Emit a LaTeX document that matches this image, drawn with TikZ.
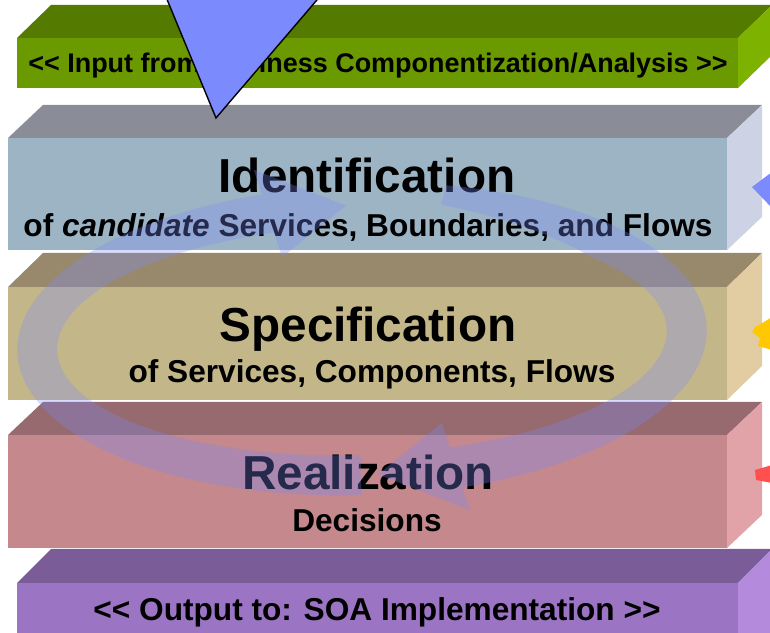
\documentclass[tikz,border=0pt]{standalone}
\usepackage{fontspec}
\setmainfont{Liberation Sans}
\usepackage{tikz}
\usepackage{color}

\definecolor{inFront}{HTML}{6A9A00}
\definecolor{inTop}{HTML}{557A00}
\definecolor{inSide}{HTML}{7DB300}
\definecolor{idFront}{HTML}{9CB4C4}
\definecolor{idTop}{HTML}{8A8C98}
\definecolor{idSide}{HTML}{CDD3E4}
\definecolor{spFront}{HTML}{C3B78A}
\definecolor{spTop}{HTML}{98896D}
\definecolor{spSide}{HTML}{E2CDA2}
\definecolor{reFront}{HTML}{C4888D}
\definecolor{reTop}{HTML}{966A6E}
\definecolor{reSide}{HTML}{E1A3A8}
\definecolor{outFront}{HTML}{9C74C4}
\definecolor{outTop}{HTML}{7A5C98}
\definecolor{outSide}{HTML}{B48BDC}
\definecolor{wedgeBlue}{HTML}{7B8AFC}
\definecolor{wedgeYellow}{HTML}{FFC800}
\definecolor{wedgeRed}{HTML}{FF5050}

\begin{document}
\begin{tikzpicture}[x=0.03cm,y=0.03cm,
    title/.style={anchor=base, inner sep=0pt, font=\bfseries\fontsize{40.7}{46}\selectfont},
    sub/.style={anchor=base, inner sep=0pt, font=\bfseries\fontsize{27}{32}\selectfont},
    band/.style={anchor=base, inner sep=0pt, font=\bfseries\fontsize{23}{27}\selectfont},
    ring/.style={fill=wedgeBlue, fill opacity=0.3}]
    \clip (0,0) rectangle (770,632);

    \fill[inTop] (17,594) -- (738,594) -- (772,627) -- (51,627) -- cycle;
    \fill[inSide] (738,594) -- (772,627) -- (772,577) -- (738,544) -- cycle;
    \fill[inFront] (17,544) rectangle (738,594);
    \node[band] (Input) at (378,559) {<{}< Input from Business Componentization/Analysis >{}>};

    \fill[idTop] (8,494) -- (727,494) -- (762,527) -- (43,527) -- cycle;
    \fill[idSide] (727,494) -- (762,527) -- (762,415) -- (727,382) -- cycle;
    \fill[idFront] (8,382) rectangle (727,494);
    \node[title] (IdHead) at (367,439) {Identification};
    \node[sub] (IdSub) at (368,395) {of \textit{candidate} Services, Boundaries, and Flows};

    \fill[spTop] (8,345) -- (727,345) -- (762,379) -- (43,379) -- cycle;
    \fill[spSide] (727,345) -- (762,379) -- (762,266) -- (727,232) -- cycle;
    \fill[spFront] (8,232) rectangle (727,345);
    \node[title] (SpHead) at (368,290) {Specification};
    \node[sub] (SpSub) at (372,249) {of Services, Components, Flows};

    \fill[reTop] (8,197) -- (727,197) -- (762,230) -- (43,230) -- cycle;
    \fill[reSide] (727,197) -- (762,230) -- (762,117) -- (727,84) -- cycle;
    \fill[reFront] (8,84) rectangle (727,197);
    \node[title] (ReHead) at (368,142) {Realization};
    \node[sub] (ReSub) at (367,100) {Decisions};

    \fill[outTop] (17,49) -- (738,49) -- (772,83) -- (51,83) -- cycle;
    \fill[outSide] (738,49) -- (772,83) -- (772,-5) -- (738,-5) -- cycle;
    \fill[outFront] (17,-5) rectangle (738,49);
    \node[sub] (Output) at (377,12) {<{}< Output to: SOA Implementation >{}>};

    \begin{scope}[shift={(362,292)}, rotate=2]
      \fill[ring] plot[domain=75:-74, samples=70] ({345*cos(\x)},{157*sin(\x)})
        -- ({371*cos(-74)},{181*sin(-74)}) -- ({325*cos(-88)},{135*sin(-88)})
        -- ({279*cos(-74)},{89*sin(-74)})
        -- plot[domain=-74:75, samples=70] ({(305+20*max(0,(\x-40)/35))*cos(\x)},{(115+22*max(0,(\x-40)/35))*sin(\x)}) -- cycle;
      \fill[ring] plot[domain=-91:-254, samples=70] ({345*cos(\x)},{155*sin(\x)})
        -- ({371*cos(-254)},{181*sin(-254)}) -- ({325*cos(-268)},{135*sin(-268)})
        -- ({279*cos(-254)},{89*sin(-254)})
        -- plot[domain=-254:-91, samples=70] ({305*cos(\x)},{115*sin(\x)}) -- cycle;
    \end{scope}

    \draw[fill=wedgeBlue, line width=1.2pt, line join=miter] (216,514) -- (159,652) -- (334,652) -- cycle;

    \fill[wedgeBlue] (752,445) -- (772,460) -- (772,424) -- cycle;
    \fill[wedgeYellow] (772,315) -- (764,310) -- (755,305) -- (752,300) -- (760,294) -- (758,286) -- (772,282) -- cycle;
    \fill[wedgeRed] (772,167) -- (755,162) -- (756,152) -- (772,149) -- cycle;
  \end{tikzpicture}
\end{document}
